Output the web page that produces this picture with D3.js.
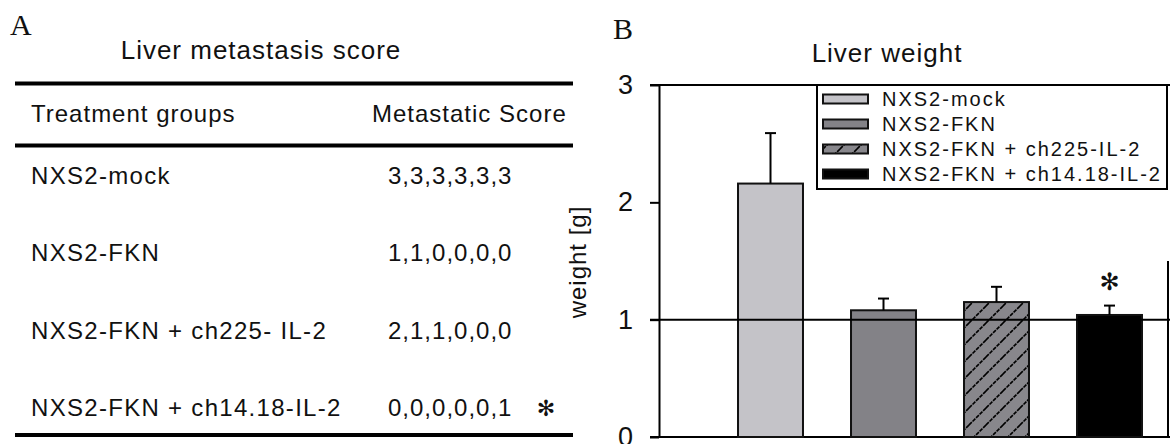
<!DOCTYPE html>
<html>
<head>
<meta charset="utf-8">
<script src="https://cdn.jsdelivr.net/npm/d3@7"></script>
<style>
  body { margin: 0; background: #fff; }
  svg { display: block; }
  text { font-family: "Liberation Sans", Arial, sans-serif; fill: #111; }
</style>
</head>
<body>
<svg id="chart"></svg>
<script>
// data -- table (panel A)
const tableGroups = ['NXS2-mock', 'NXS2-FKN', 'NXS2-FKN + ch225- IL-2', 'NXS2-FKN + ch14.18-IL-2'];
const scores = ['3,3,3,3,3,3', '1,1,0,0,0,0', '2,1,1,0,0,0', '0,0,0,0,0,1'];
const tableSignif = [false, false, false, true];

// data -- bar chart (panel B)
const groups = ['NXS2-mock', 'NXS2-FKN', 'NXS2-FKN + ch225-IL-2', 'NXS2-FKN + ch14.18-IL-2'];
const weights = [2.16, 1.08, 1.15, 1.04];
const errors = [0.43, 0.10, 0.13, 0.08];
const barSignif = [false, false, false, true];
const yTicks = [0, 1, 2, 3];
const fills = ['#c4c3c8', '#838287', 'url(#hatch)', '#000'];

const W = 1170, H = 444;
const svg = d3.select('#chart').attr('width', W).attr('height', H);

const defs = svg.append('defs');
const pat = defs.append('pattern')
  .attr('id', 'hatch')
  .attr('patternUnits', 'userSpaceOnUse')
  .attr('width', 17).attr('height', 17);
pat.append('rect').attr('width', 17).attr('height', 17).attr('fill', '#88878c');
pat.append('path')
  .attr('d', 'M0,17 L17,0 M-4,4 L4,-4 M13,21 L21,13')
  .attr('stroke', '#000').attr('stroke-width', 1.6)
  .attr('stroke-dasharray', '4,1');

// ---------- Panel A : table ----------
svg.append('text')
  .attr('x', 10).attr('y', 35)
  .style('font-family', '"Liberation Serif", serif')
  .attr('font-size', 30)
  .text('A');

svg.append('text')
  .attr('x', 261).attr('y', 59)
  .attr('text-anchor', 'middle')
  .attr('font-size', 26)
  .attr('letter-spacing', 1)
  .text('Liver metastasis score');

const tableLeft = 15, tableRight = 573;
[83.5, 145.5, 435].forEach(yy => {
  svg.append('line')
    .attr('x1', tableLeft).attr('x2', tableRight)
    .attr('y1', yy).attr('y2', yy)
    .attr('stroke', '#000').attr('stroke-width', 4);
});

svg.append('text').attr('x', 31).attr('y', 122)
  .attr('font-size', 24).attr('letter-spacing', 1)
  .text('Treatment groups');
svg.append('text').attr('x', 372).attr('y', 122)
  .attr('font-size', 24).attr('letter-spacing', 1)
  .text('Metastatic Score');

const rowY = d3.scalePoint().domain(tableGroups).range([184, 416]);

const rows = svg.append('g').selectAll('g')
  .data(tableGroups)
  .join('g')
  .attr('transform', d => `translate(0,${rowY(d)})`);

rows.append('text')
  .attr('x', 31)
  .attr('font-size', 24).attr('letter-spacing', 1.3)
  .text(d => d);

rows.append('text')
  .attr('x', 388)
  .attr('font-size', 24).attr('letter-spacing', 1)
  .text((d, i) => scores[i]);

rows.filter((d, i) => tableSignif[i])
  .append('text')
  .attr('x', 546).attr('y', -8)
  .attr('text-anchor', 'middle')
  .attr('dominant-baseline', 'central')
  .style('font-family', '"DejaVu Sans", sans-serif')
  .attr('font-size', 22)
  .text('\u273B');

// ---------- Panel B : bar chart ----------
svg.append('text')
  .attr('x', 613).attr('y', 39)
  .style('font-family', '"Liberation Serif", serif')
  .attr('font-size', 30)
  .text('B');

svg.append('text')
  .attr('x', 887).attr('y', 62)
  .attr('text-anchor', 'middle')
  .attr('font-size', 26).attr('letter-spacing', 1)
  .text('Liver weight');

const y = d3.scaleLinear().domain([0, 3]).range([437, 85]);
const x = d3.scaleBand()
  .domain(groups)
  .range([714, 1166])
  .paddingInner(0.425)
  .paddingOuter(0.2125);

const axisX = 659, plotRight = 1170;

// frame top / bottom lines
[3, 0].forEach(v => {
  svg.append('line')
    .attr('x1', axisX - 9).attr('x2', plotRight)
    .attr('y1', y(v)).attr('y2', y(v))
    .attr('stroke', '#000').attr('stroke-width', 2);
});

// bars
svg.append('g').selectAll('rect')
  .data(groups)
  .join('rect')
  .attr('x', d => x(d))
  .attr('y', (d, i) => y(weights[i]))
  .attr('width', x.bandwidth())
  .attr('height', (d, i) => y(0) - y(weights[i]))
  .attr('fill', (d, i) => fills[i])
  .attr('stroke', '#111').attr('stroke-width', 2);

// error bars
const err = svg.append('g').attr('stroke', '#000').attr('stroke-width', 2);
groups.forEach((g, i) => {
  const cx = x(g) + x.bandwidth() / 2;
  err.append('line')
    .attr('x1', cx).attr('x2', cx)
    .attr('y1', y(weights[i])).attr('y2', y(weights[i] + errors[i]));
  err.append('line')
    .attr('x1', cx - 5.5).attr('x2', cx + 5.5)
    .attr('y1', y(weights[i] + errors[i])).attr('y2', y(weights[i] + errors[i]));
});

// significance marks
svg.append('g').selectAll('text')
  .data(groups.filter((g, i) => barSignif[i]))
  .join('text')
  .attr('x', d => x(d) + x.bandwidth() / 2)
  .attr('y', d => y(weights[groups.indexOf(d)] + errors[groups.indexOf(d)]) - 24)
  .attr('text-anchor', 'middle')
  .attr('dominant-baseline', 'central')
  .style('font-family', '"DejaVu Sans", sans-serif')
  .attr('font-size', 24)
  .text('\u273B');

// reference line at 1 g
svg.append('line')
  .attr('x1', axisX - 9).attr('x2', plotRight)
  .attr('y1', y(1)).attr('y2', y(1))
  .attr('stroke', '#000').attr('stroke-width', 2);

// right frame piece
svg.append('line')
  .attr('x1', 1168).attr('x2', 1168)
  .attr('y1', y(1.5)).attr('y2', y(0))
  .attr('stroke', '#000').attr('stroke-width', 2);

// y axis
const yAxis = svg.append('g')
  .attr('transform', `translate(${axisX},0)`)
  .call(d3.axisLeft(y).tickValues(yTicks).tickFormat(d3.format('d'))
    .tickSize(9).tickSizeOuter(0).tickPadding(17));
yAxis.select('.domain').attr('stroke', '#000').attr('stroke-width', 2);
yAxis.selectAll('.tick line').attr('stroke', '#000').attr('stroke-width', 2);
yAxis.selectAll('.tick text')
  .attr('font-size', 27)
  .style('font-family', '"Liberation Sans", Arial, sans-serif')
  .attr('fill', '#111');

svg.append('text')
  .attr('transform', 'translate(586,262) rotate(-90)')
  .attr('text-anchor', 'middle')
  .attr('font-size', 24).attr('letter-spacing', 1)
  .text('weight [g]');

// legend
const legend = svg.append('g').attr('transform', 'translate(817,85)');
legend.append('rect')
  .attr('width', 350).attr('height', 104)
  .attr('fill', '#fff').attr('stroke', '#000').attr('stroke-width', 2);
const item = legend.selectAll('g.item')
  .data(groups)
  .join('g')
  .attr('class', 'item')
  .attr('transform', (d, i) => `translate(6,${14 + i * 25})`);
item.append('rect')
  .attr('y', -4.5)
  .attr('width', 45).attr('height', 9)
  .attr('fill', (d, i) => fills[i])
  .attr('stroke', '#111').attr('stroke-width', 2);
item.append('text')
  .attr('x', 59).attr('y', 7)
  .attr('font-size', 20).attr('letter-spacing', 2)
  .text(d => d);
</script>
</body>
</html>
